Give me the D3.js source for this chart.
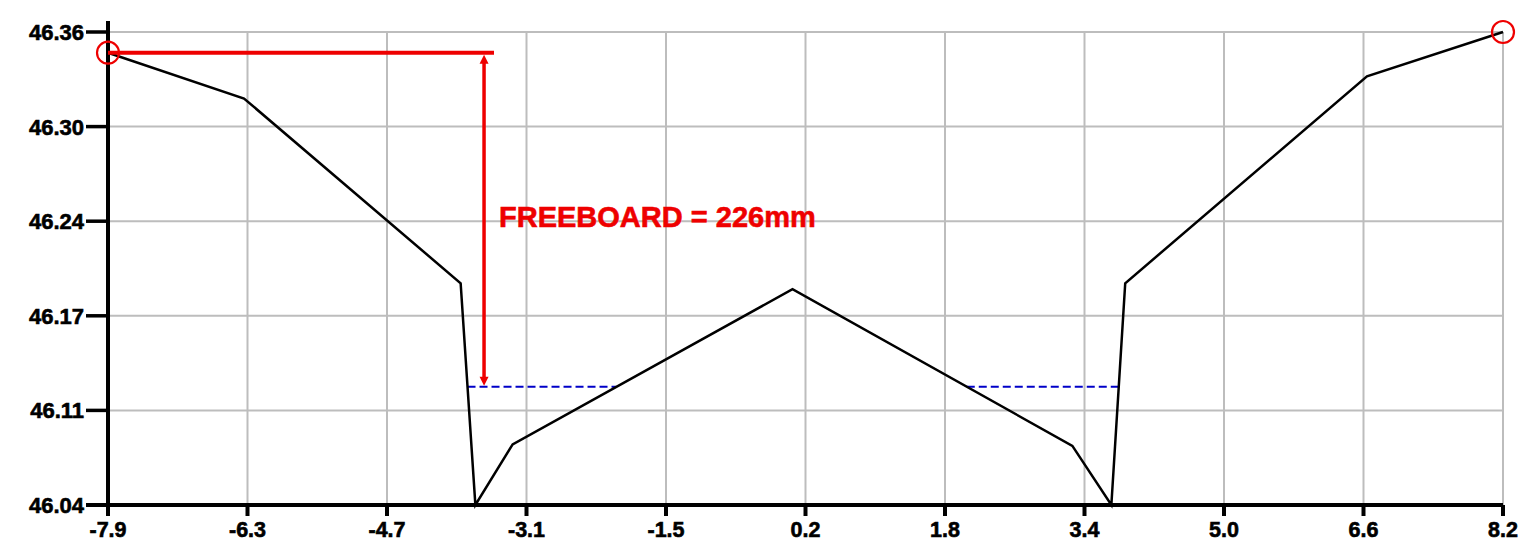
<!DOCTYPE html>
<html>
<head>
<meta charset="utf-8">
<script src="https://cdn.jsdelivr.net/npm/d3@7"></script>
<style>
  html, body { margin: 0; padding: 0; background: #fff; }
  svg { display: block; }
  text { font-family: "Liberation Sans", Arial, sans-serif; font-weight: bold; }
</style>
</head>
<body>
<svg id="chart" width="1529" height="549"></svg>
<script>
// Cross-section: offset from centreline (m) and reduced level (m)
const offsets = [-7.9, -6.33, -3.83, -3.66, -3.23, 0.0, 3.23, 3.68, 3.84, 6.63, 8.2];
const levels  = [46.349, 46.318, 46.193, 46.043, 46.084, 46.189, 46.083, 46.043, 46.193, 46.333, 46.363];

// Design water level in the drains
const waterLevel = 46.123;

// Axis extents and tick labels
const xDomain = [-7.9, 8.2];
const yDomain = [46.043, 46.363];
const xTickLabels = ["-7.9", "-6.3", "-4.7", "-3.1", "-1.5", "0.2", "1.8", "3.4", "5.0", "6.6", "8.2"];
const yTickLabels = ["46.04", "46.11", "46.17", "46.24", "46.30", "46.36"];

// Freeboard annotation (offsets in m)
const freeboardArrowX = -3.56;
const freeboardLineEndX = -3.445;

const svg = d3.select("#chart");
const plotLeft = 108, plotRight = 1503, plotTop = 32, plotBottom = 505;

const x = d3.scaleLinear().domain(xDomain).range([plotLeft, plotRight]);
const y = d3.scaleLinear().domain(yDomain).range([plotBottom, plotTop]);

const xTicks = xTickLabels.map((_, i) => xDomain[0] + i * (xDomain[1] - xDomain[0]) / (xTickLabels.length - 1));
const yTicks = yTickLabels.map((_, i) => yDomain[0] + i * (yDomain[1] - yDomain[0]) / (yTickLabels.length - 1));

// Grid
const grid = svg.append("g").attr("stroke", "#bdbdbd").attr("stroke-width", 2);
xTicks.forEach(t => grid.append("line").attr("x1", x(t)).attr("x2", x(t)).attr("y1", plotTop).attr("y2", plotBottom));
yTicks.forEach(t => grid.append("line").attr("x1", plotLeft).attr("x2", plotRight).attr("y1", y(t)).attr("y2", y(t)));

// Water level segments where the water surface lies above the profile
const crossings = [];
for (let i = 0; i < offsets.length - 1; i++) {
  const a = levels[i] - waterLevel, b = levels[i + 1] - waterLevel;
  if ((a > 0 && b < 0) || (a < 0 && b > 0)) {
    const t = a / (a - b);
    crossings.push(offsets[i] + t * (offsets[i + 1] - offsets[i]));
  }
}
for (let i = 0; i + 1 < crossings.length; i += 2) {
  svg.append("line")
    .attr("x1", x(crossings[i])).attr("x2", x(crossings[i + 1]))
    .attr("y1", y(waterLevel)).attr("y2", y(waterLevel))
    .attr("stroke", "#0000c8").attr("stroke-width", 2)
    .attr("stroke-dasharray", "8,4");
}

// Profile line
const line = d3.line().x(d => x(d[0])).y(d => y(d[1]));
svg.append("path")
  .datum(offsets.map((o, i) => [o, levels[i]]))
  .attr("d", line)
  .attr("fill", "none")
  .attr("stroke", "#000")
  .attr("stroke-width", 2.5)
  .attr("stroke-linejoin", "miter");

// Axes
const axes = svg.append("g").attr("stroke", "#000").attr("stroke-width", 4);
axes.append("line").attr("x1", plotLeft).attr("x2", plotLeft).attr("y1", 21).attr("y2", 516);
axes.append("line").attr("x1", 86).attr("x2", plotRight).attr("y1", plotBottom).attr("y2", plotBottom);
yTicks.forEach(t => axes.append("line").attr("x1", 86).attr("x2", plotLeft).attr("y1", y(t)).attr("y2", y(t)).attr("stroke-width", 3.5));
xTicks.forEach(t => axes.append("line").attr("x1", x(t)).attr("x2", x(t)).attr("y1", plotBottom).attr("y2", 516));

svg.append("g").selectAll("text").data(yTicks).join("text")
  .attr("x", 84).attr("y", d => y(d))
  .attr("dy", "0.36em")
  .attr("text-anchor", "end")
  .attr("font-size", 22)
  .attr("fill", "#000")
  .attr("stroke", "#000").attr("stroke-width", 0.6)
  .text((d, i) => yTickLabels[i]);

svg.append("g").selectAll("text").data(xTicks).join("text")
  .attr("x", d => x(d)).attr("y", 537)
  .attr("text-anchor", "middle")
  .attr("font-size", 21.5)
  .attr("fill", "#000")
  .attr("stroke", "#000").attr("stroke-width", 0.6)
  .text((d, i) => xTickLabels[i]);

// Freeboard annotation
const red = "#ee0000";
const topY = y(levels[0]), waterY = y(waterLevel);
svg.append("line")
  .attr("x1", x(offsets[0])).attr("x2", x(freeboardLineEndX))
  .attr("y1", topY).attr("y2", topY)
  .attr("stroke", red).attr("stroke-width", 4);

const ax = x(freeboardArrowX);
svg.append("line")
  .attr("x1", ax).attr("x2", ax)
  .attr("y1", topY + 8).attr("y2", waterY - 8)
  .attr("stroke", red).attr("stroke-width", 3.5);
svg.append("path")
  .attr("d", `M${ax},${topY + 2}L${ax - 4.5},${topY + 11}L${ax + 4.5},${topY + 11}Z`)
  .attr("fill", red);
svg.append("path")
  .attr("d", `M${ax},${waterY - 1}L${ax - 4.5},${waterY - 10}L${ax + 4.5},${waterY - 10}Z`)
  .attr("fill", red);

const freeboardMm = Math.round((levels[0] - waterLevel) * 1000);
svg.append("text")
  .attr("x", ax + 15).attr("y", 227)
  .attr("font-size", 29)
  .attr("fill", red)
  .attr("stroke", red).attr("stroke-width", 0.6)
  .text(`FREEBOARD = ${freeboardMm}mm`);

// Markers at the two end points
[0, offsets.length - 1].forEach(i => {
  svg.append("circle")
    .attr("cx", x(offsets[i])).attr("cy", y(levels[i]))
    .attr("r", 11)
    .attr("fill", "none")
    .attr("stroke", red).attr("stroke-width", 2.2);
});
</script>
</body>
</html>
